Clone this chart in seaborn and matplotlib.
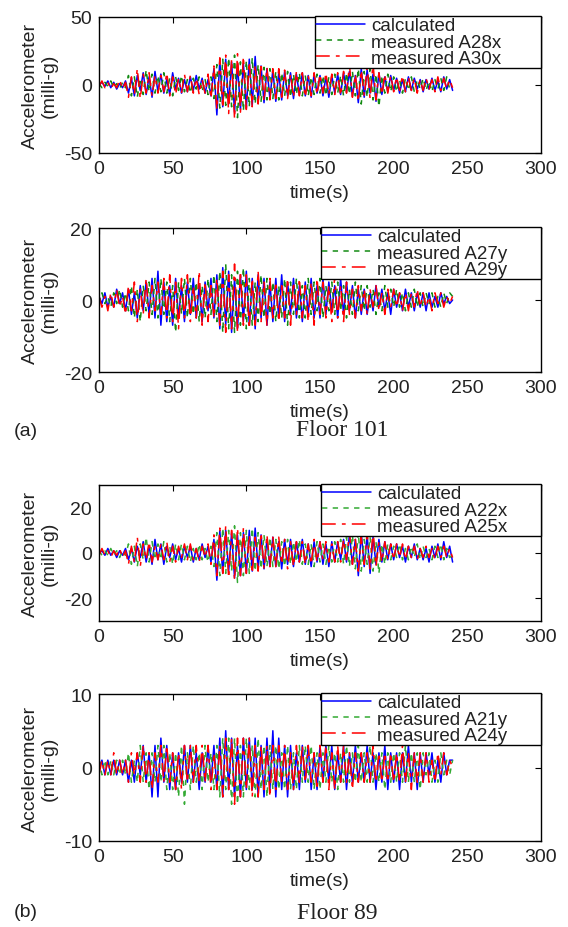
import numpy as np
import matplotlib
matplotlib.use("Agg")
import matplotlib.pyplot as plt
import seaborn as sns

# sample times (s), one value every 2 s
t = np.arange(0, 241, 2)

# ==========================
# Floor 101, x direction
# ==========================
calc_101x = [0, 2, -1, 3, -2, 2, -3, 1, -2, 3,
             -6, 5, -8, 7, -4, 9, -7, 6, -9, 10,
             -5, 8, -6, 4, -7, 9, -3, 5, -6, 4,
             -5, 6, -4, 7, -3, 5, -6, 4, -8, 12,
             -22, 18, -16, 19, -14, 17, -20, 15, -18, 16,
             -17, 19, -15, 21, -12, 14, -13, 12, -10, 11,
             -12, 9, -11, 10, -8, 9, -10, 8, -7, 9,
             -8, 7, -9, 8, -6, 7, -8, 6, -9, 7,
             -6, 8, -7, 9, -5, 10, -8, 7, -13, 12,
             -9, 11, -6, 8, -12, 9, -7, 6, -5, 7,
             -4, 5, -6, 4, -5, 6, -4, 5, -3, 4,
             -5, 4, -3, 5, -4, 3, -5, 6, -3, 4,
             -4]
meas_A28x = [1, -2, 2, -1, 3, -2, 1, -3, 2, -2,
             7, -8, 6, -9, 5, -7, 11, -5, 8, -6,
             7, -5, 9, -6, 5, -8, 6, -4, 7, -5,
             4, -6, 5, -3, 6, -5, 4, -7, 6, -10,
             15, -17, 19, -15, 20, -16, 22, -24, 17, -19,
             18, -16, 20, -14, 15, -12, 13, -11, 12, -10,
             10, -11, 9, -8, 10, -9, 8, -7, 9, -8,
             7, -8, 6, -7, 8, -6, 7, -8, 6, -7,
             8, -6, 7, -8, 9, -7, 10, -8, 12, -14,
             10, -9, 12, -11, 8, -16, 7, -6, 8, -5,
             6, -5, 4, -6, 5, -4, 6, -5, 4, -3,
             5, -4, 3, -5, 4, -3, 5, -4, 6, -3,
             -2]
meas_A30x = [-1, 3, -2, 2, -3, 1, -2, 4, -3, 2,
             -9, 6, -7, 12, -10, 8, -6, 9, -8, 7,
             -6, 7, -5, 9, -8, 6, -7, 5, -6, 8,
             -5, 7, -6, 5, -7, 4, -6, 8, -10, 14,
             -18, 20, -17, 22, -21, 19, -25, 23, -20, 21,
             -18, 17, -16, 15, -14, 16, -12, 13, -11, 12,
             -10, 12, -9, 11, -10, 8, -9, 10, -8, 9,
             -9, 7, -8, 9, -7, 8, -6, 9, -7, 8,
             -7, 9, -8, 10, -6, 15, -9, 8, -12, 11,
             -8, 13, -10, 16, -11, 9, -7, 8, -6, 7,
             -5, 6, -4, 7, -5, 6, -4, 5, -6, 4,
             -4, 5, -3, 4, -5, 6, -4, 5, -3, 4,
             -2]

# ==========================
# Floor 101, y direction
# ==========================
calc_101y = [1, -1, 2, -2, 1, -2, 3, -1, 2, -3,
             3, -4, 2, -5, 4, -3, 5, -4, 6, -5,
             8, -7, 5, -6, 4, -7, 6, -5, 4, -6,
             5, -4, 6, -5, 4, -6, 5, -3, 6, -5,
             7, -8, 9, -7, 8, -9, 6, -8, 7, -6,
             8, -7, 6, -8, 7, -5, 6, -7, 5, -6,
             6, -5, 7, -6, 5, -4, 6, -5, 4, -6,
             5, -4, 6, -5, 4, -5, 6, -4, 5, -3,
             4, -5, 6, -4, 5, -3, 4, -5, 3, -4,
             3, -4, 2, -3, 4, -2, 3, -3, 2, -4,
             3, -2, 2, -3, 3, -2, 2, -3, 2, -2,
             2, -3, 2, -2, 1, -2, 2, -1, 1, -1,
             0]
meas_A27y = [-1, 2, -1, 1, -2, 2, -1, 3, -2, 2,
             -3, 4, -5, 3, -6, 4, -3, 5, -4, 6,
             -5, 6, -4, 5, -6, 4, -9, 5, -4, 6,
             -5, 6, -4, 5, -6, 4, -5, 6, -4, 7,
             -6, 8, -9, 10, -8, 7, -9, 8, -7, 9,
             -8, 6, -7, 5, -6, 7, -5, 6, -4, 5,
             -6, 4, -5, 6, -7, 5, -4, 6, -5, 4,
             -5, 6, -4, 5, -3, 6, -5, 4, -3, 5,
             -4, 5, -3, 4, -5, 3, -4, 5, -3, 4,
             -3, 4, -2, 3, -4, 2, -3, 4, -2, 3,
             -2, 3, -2, 2, -3, 2, -2, 3, -2, 2,
             -2, 2, -1, 2, -2, 1, -2, 2, -1, 2,
             1]
meas_A29y = [1, -2, 1, -3, 2, -2, 3, -2, 1, -4,
             4, -3, 5, -6, 3, -4, 6, -5, 4, -3,
             5, -4, 6, -5, 7, -6, 5, -8, 6, -5,
             7, -6, 4, -5, 8, -7, 5, -6, 4, -5,
             6, -7, 8, -9, 7, -8, 10, -9, 8, -7,
             7, -8, 6, -7, 8, -6, 5, -7, 6, -5,
             5, -6, 4, -5, 6, -7, 5, -4, 6, -5,
             4, -6, 5, -7, 6, -4, 5, -5, 4, -6,
             7, -5, 4, -6, 5, -4, 3, -5, 4, -3,
             3, -4, 3, -2, 4, -3, 2, -4, 3, -2,
             3, -2, 2, -3, 2, -3, 2, -2, 3, -2,
             2, -2, 1, -3, 2, -1, 2, -2, 1, -1,
             1]

# ==========================
# Floor 89, x direction
# ==========================
calc_89x = [0, 1, -1, 2, -1, 1, -2, 1, -1, 2,
            -3, 2, -4, 3, -2, 5, -4, 3, -5, 6,
            -3, 4, -5, 3, -2, 4, -3, 2, -4, 3,
            -2, 3, -4, 2, -3, 4, -2, 3, -4, 6,
            -12, 10, -9, 10, -8, 9, -11, 8, -10, 9,
            -9, 10, -8, 11, -7, 8, -7, 6, -6, 7,
            -6, 5, -7, 6, -5, 6, -6, 5, -4, 6,
            -5, 4, -6, 5, -4, 5, -5, 4, -6, 5,
            -4, 5, -3, 6, -4, 8, -5, 6, -10, 9,
            -6, 8, -9, 7, -5, 6, -4, 5, -3, 4,
            -3, 4, -2, 3, -4, 3, -2, 4, -3, 2,
            -3, 2, -4, 3, -2, 4, -3, 5, -2, 3,
            -4]
meas_A22x = [1, -1, 1, -1, 2, -1, 1, -2, 1, -1,
             4, -5, 3, -6, 4, -3, 7, -4, 5, -3,
             4, -3, 5, -4, 3, -5, 4, -3, 4, -3,
             3, -4, 2, -3, 4, -3, 2, -4, 3, -6,
             9, -10, 11, -9, 10, -8, 12, -13, 9, -10,
             10, -9, 11, -8, 9, -7, 8, -6, 7, -6,
             6, -7, 5, -6, 6, -5, 5, -4, 6, -5,
             4, -5, 4, -6, 5, -4, 4, -5, 3, -4,
             5, -4, 6, -5, 7, -6, 8, -7, 9, -8,
             6, -5, 7, -8, 5, -9, 4, -5, 4, -3,
             3, -2, 4, -3, 2, -3, 3, -2, 4, -3,
             3, -2, 2, -3, 3, -2, 4, -3, 2, -2,
             -1]
meas_A25x = [-1, 2, -1, 1, -2, 1, -1, 2, -2, 1,
             -5, 3, -4, 7, -6, 4, -3, 5, -4, 3,
             -3, 4, -3, 5, -4, 3, -4, 3, -2, 4,
             -3, 4, -3, 2, -4, 3, -2, 4, -5, 8,
             -10, 11, -9, 12, -11, 10, -12, 11, -10, 11,
             -9, 8, -9, 7, -8, 9, -7, 8, -6, 7,
             -6, 7, -5, 6, -7, 5, -6, 5, -4, 5,
             -5, 4, -5, 6, -4, 5, -3, 5, -4, 4,
             -4, 5, -4, 6, -3, 9, -5, 6, -8, 7,
             -5, 9, -7, 10, -6, 5, -4, 5, -3, 4,
             -3, 4, -2, 4, -3, 3, -2, 3, -3, 2,
             -2, 3, -2, 2, -3, 3, -2, 3, -2, 2,
             -2]

# ==========================
# Floor 89, y direction
# ==========================
calc_89y = [0, 1, -1, 1, -1, 1, -1, 1, -1, 1,
            -2, 1, -2, 2, -1, 3, -2, 2, -4, 3,
            -4, 4, -2, 3, -3, 2, -3, 2, -2, 3,
            -2, 3, -2, 2, -3, 2, -2, 3, -2, 3,
            -3, 4, -4, 5, -3, 4, -4, 3, -4, 4,
            -3, 4, -3, 4, -4, 3, -4, 4, -3, 5,
            -4, 4, -3, 3, -4, 3, -3, 2, -3, 3,
            -2, 3, -3, 2, -3, 3, -2, 3, -2, 3,
            -3, 2, -2, 3, -3, 2, -2, 3, -2, 2,
            -2, 3, -2, 2, -3, 2, -2, 3, -3, 2,
            -2, 2, -3, 2, -2, 3, -2, 2, -3, 2,
            -2, 2, -1, 2, -2, 1, -2, 2, -1, 1,
            1]
meas_A21y = [1, -1, 1, -1, 1, -1, 1, -1, 1, -1,
             2, -2, 1, -2, 3, -2, 2, -3, 2, -2,
             3, -2, 3, -3, 2, -3, 2, -4, 3, -5,
             2, -3, 3, -2, 2, -3, 3, -2, 2, -3,
             3, -4, 4, -3, 4, -5, 4, -5, 3, -4,
             4, -3, 3, -4, 4, -3, 3, -4, 3, -3,
             3, -3, 2, -3, 3, -3, 2, -3, 3, -2,
             3, -2, 3, -3, 2, -3, 2, -2, 3, -2,
             2, -3, 2, -2, 3, -2, 2, -2, 3, -2,
             2, -2, 3, -2, 2, -2, 2, -3, 2, -2,
             2, -2, 2, -2, 3, -2, 2, -2, 2, -3,
             2, -1, 2, -2, 1, -2, 2, -1, 1, -1,
             1]
meas_A24y = [-1, 1, -1, 1, -1, 2, -1, 1, -1, 1,
             -2, 2, -1, 2, -2, 3, -2, 2, -3, 2,
             -2, 3, -2, 3, -2, 2, -3, 2, -3, 3,
             -2, 3, -2, 3, -2, 3, -2, 3, -3, 2,
             -3, 3, -4, 4, -3, 4, -5, 4, -4, 4,
             -3, 4, -4, 3, -4, 3, -3, 3, -4, 3,
             -3, 3, -2, 3, -3, 2, -3, 3, -2, 3,
             -2, 3, -2, 2, -3, 3, -2, 3, -3, 2,
             -3, 3, -2, 3, -2, 2, -3, 2, -2, 2,
             -2, 2, -2, 3, -2, 2, -2, 2, -2, 2,
             -2, 2, -2, 3, -2, 2, -3, 2, -2, 2,
             -2, 2, -2, 1, -2, 2, -1, 2, -1, 1,
             0]

x_ticks = [0, 50, 100, 150, 200, 250, 300]

panels = [
    # rect in pixels: left, top, width, height
    dict(rect=(99, 18, 442, 136), ylim=(-50, 50), yticks=[-50, 0, 50],
         series=[calc_101x, meas_A28x, meas_A30x],
         labels=["calculated", "measured A28x", "measured A30x"],
         green="#128a12", leg_x=0.489),
    dict(rect=(99, 229, 442, 144), ylim=(-20, 20), yticks=[-20, 0, 20],
         series=[calc_101y, meas_A27y, meas_A29y],
         labels=["calculated", "measured A27y", "measured A29y"],
         green="#128a12", leg_x=0.502),
    dict(rect=(99, 486, 442, 136), ylim=(-30, 30), yticks=[-20, 0, 20],
         series=[calc_89x, meas_A22x, meas_A25x],
         labels=["calculated", "measured A22x", "measured A25x"],
         green="#33aa33", leg_x=0.502),
    dict(rect=(99, 695, 442, 147), ylim=(-10, 10), yticks=[-10, 0, 10],
         series=[calc_89y, meas_A21y, meas_A24y],
         labels=["calculated", "measured A21y", "measured A24y"],
         green="#33aa33", leg_x=0.502),
]

sns.set_theme(style="white")
plt.rcParams['font.family'] = ['Liberation Sans', 'DejaVu Sans']
plt.rcParams['axes.unicode_minus'] = False

W, H = 568, 928
fig = plt.figure(figsize=(W / 100, H / 100), dpi=100)

styles = [
    dict(color="#0000ff", linestyle="-"),
    dict(color=None, linestyle=(0, (3.5, 3.5))),
    dict(color="#ff0000", linestyle=(0, (9, 4, 2.5, 4))),
]

for p in panels:
    l, top, w, h = p["rect"]
    ax = fig.add_axes([l / W, 1 - (top + h) / H, w / W, h / H])

    for vals, lab, st in zip(p["series"], p["labels"], styles):
        col = st["color"] if st["color"] else p["green"]
        sns.lineplot(x=t, y=vals, ax=ax, color=col, linestyle=st["linestyle"],
                     linewidth=1.1, label=lab, legend=False)

    ax.set_xlim(0, 300)
    ax.set_ylim(*p["ylim"])
    ax.set_xticks(x_ticks)
    ax.set_yticks(p["yticks"])
    ax.tick_params(direction="in", length=4, width=0.8, top=True, right=True,
                   labelsize=14, pad=5, colors="black", labelcolor="#222222")
    for s in ax.spines.values():
        s.set_color("black")
        s.set_linewidth(1.0)

    ax.set_xlabel("time(s)", fontsize=14, color="#222222", labelpad=5)
    ax.set_ylabel("Accelerometer\n(milli-g)", fontsize=14, color="#222222",
                  labelpad=4)

    leg = ax.legend(loc="upper left", bbox_to_anchor=(p["leg_x"], 0, 1 - p["leg_x"], 1.005),
                    mode="expand", borderaxespad=0, fontsize=13.5,
                    labelspacing=-0.05, borderpad=0.05, handlelength=2.6,
                    handletextpad=0.35, fancybox=False, framealpha=1)
    leg.get_frame().set_edgecolor("black")
    leg.get_frame().set_linewidth(1.0)
    for txt in leg.get_texts():
        txt.set_color("#222222")

# panel captions
fig.text(14 / W, 1 - 432 / H, "(a)", fontsize=14, color="#222222", va="center", ha="left")
fig.text(342 / W, 1 - 431 / H, "Floor 101", fontsize=17, color="#222222",
         va="center", ha="center", family=["Liberation Serif", "DejaVu Serif"])
fig.text(14 / W, 1 - 913 / H, "(b)", fontsize=14, color="#222222", va="center", ha="left")
fig.text(337 / W, 1 - 914 / H, "Floor 89", fontsize=17, color="#222222",
         va="center", ha="center", family=["Liberation Serif", "DejaVu Serif"])

fig.savefig("out.png", dpi=100)
